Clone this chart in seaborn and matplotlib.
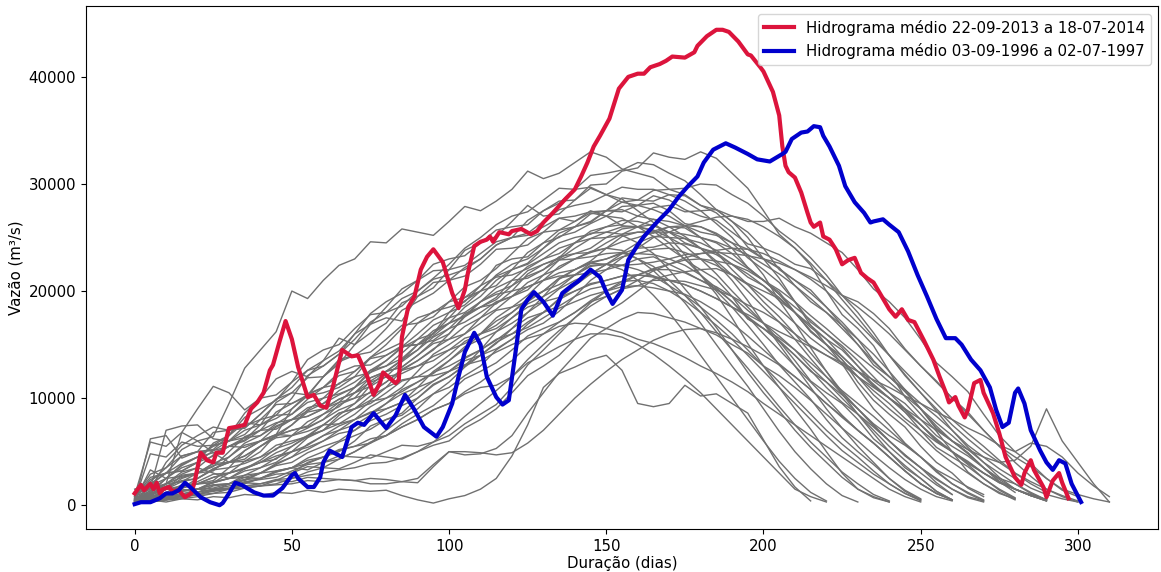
import pandas as pd
import seaborn as sns
import matplotlib.pyplot as plt

# hidrogramas anuais (mil m3/s), um valor a cada 5 dias a partir do dia 0
PASSO = 5
hidrogramas = [
    [0.8, 2.9, 3.5, 5.2, 6.0, 6.4, 9.5, 12.8, 14.5, 16.2, 20.0, 19.3, 21.0, 22.4, 23.0, 24.6, 24.5, 25.8, 25.5, 25.2, 26.5, 27.9, 27.5, 28.4, 29.5, 31.2, 30.5, 31.0, 32.0, 33.0, 32.5, 31.4, 31.0, 30.6, 29.5, 29.0, 28.0, 27.3, 26.0, 24.1, 23.0, 22.2, 20.5, 19.0, 18.0, 16.8, 15.0, 13.1, 12.0, 10.8, 9.0, 7.1, 6.0, 4.9, 3.5, 2.2, 1.5, 0.9, 0.4],
    [0.5, 0.9, 2.0, 6.8, 9.0, 11.1, 10.5, 8.9, 10.0, 11.8, 12.5, 12.0, 13.5, 15.6, 15.0, 16.1, 17.0, 18.9, 19.5, 20.3, 22.0, 23.8, 24.5, 25.1, 26.5, 28.0, 27.0, 27.2, 28.5, 29.9, 30.0, 31.2, 31.5, 32.9, 32.5, 32.3, 33.0, 32.4, 31.0, 29.6, 27.5, 25.3, 24.0, 22.4, 20.0, 17.8, 16.5, 14.9, 12.5, 10.1, 8.5, 6.9, 5.0, 3.1, 2.0, 1.2, 0.5],
    [0.3, 6.2, 6.5, 4.4, 5.0, 6.8, 7.0, 7.2, 8.5, 9.9, 10.5, 11.9, 12.0, 13.2, 15.0, 16.9, 17.5, 17.2, 19.5, 20.8, 21.0, 21.4, 22.5, 23.9, 24.0, 24.3, 25.5, 26.8, 26.5, 27.5, 27.0, 26.1, 26.0, 25.6, 24.5, 22.9, 22.0, 21.1, 19.5, 17.4, 16.5, 15.3, 13.5, 11.6, 10.5, 9.5, 8.0, 6.2, 5.0, 3.5, 2.5, 1.3, 0.5],
    [1.0, 1.6, 7.0, 7.4, 7.5, 6.2, 6.0, 7.4, 8.0, 8.4, 10.0, 12.1, 13.0, 14.1, 16.0, 16.9, 18.5, 20.2, 21.0, 22.5, 23.0, 23.3, 24.5, 25.7, 26.0, 26.2, 27.5, 28.4, 28.5, 29.6, 29.0, 28.3, 28.0, 28.2, 27.5, 26.3, 26.0, 25.3, 24.0, 22.2, 21.0, 19.9, 18.0, 16.2, 15.0, 13.6, 11.5, 9.8, 8.5, 7.3, 5.5, 4.0, 3.0, 1.6, 0.8],
    [0.2, 0.9, 1.0, 1.7, 2.0, 2.3, 3.5, 5.1, 6.0, 6.6, 9.0, 10.2, 10.5, 11.0, 12.0, 13.8, 14.5, 15.2, 17.0, 18.1, 18.5, 19.0, 20.5, 22.4, 23.0, 23.2, 24.5, 25.7, 26.0, 26.4, 27.5, 28.7, 28.5, 28.4, 29.0, 28.9, 28.0, 27.6, 26.5, 25.5, 24.0, 22.0, 21.0, 20.1, 18.5, 16.8, 15.5, 13.5, 12.0, 10.7, 9.0, 7.2, 6.0, 4.9, 3.5, 2.2, 1.2],
    [0.4, 0.6, 1.5, 2.8, 3.0, 3.6, 5.0, 6.4, 7.0, 7.1, 8.0, 9.1, 9.5, 10.3, 11.0, 12.6, 13.0, 14.2, 15.5, 16.0, 18.0, 19.4, 20.0, 20.5, 22.0, 23.6, 24.5, 25.0, 26.0, 27.2, 27.5, 27.4, 28.0, 28.9, 28.5, 27.6, 27.0, 26.6, 25.5, 24.4, 24.0, 23.4, 22.5, 22.1, 21.0, 19.6, 19.0, 17.9, 16.5, 14.6, 13.0, 11.6, 10.0, 8.7, 7.0, 5.5, 4.5, 3.6, 2.5, 1.4, 0.8],
    [0.6, 1.1, 2.5, 3.8, 4.5, 4.9, 4.0, 4.3, 5.5, 6.3, 6.5, 7.2, 8.0, 9.4, 10.0, 11.6, 12.5, 12.9, 14.0, 15.3, 16.0, 17.7, 18.5, 18.8, 20.0, 21.6, 22.5, 23.1, 24.5, 25.6, 26.0, 26.2, 27.0, 27.8, 28.0, 27.4, 27.5, 27.6, 27.0, 26.5, 26.5, 26.8, 26.0, 25.4, 24.5, 23.6, 22.0, 20.2, 19.0, 17.5, 15.5, 13.3, 12.0, 10.6, 8.5, 6.5, 5.0, 3.9, 2.5, 1.5, 1.0, 0.6, 0.3],
    [0.3, 0.4, 0.8, 1.3, 1.5, 2.2, 2.5, 3.4, 4.0, 4.3, 5.5, 6.5, 7.0, 7.6, 8.5, 9.7, 10.0, 11.0, 12.5, 14.1, 15.0, 16.0, 17.5, 18.9, 19.5, 20.1, 21.5, 22.9, 23.5, 24.0, 25.0, 25.8, 26.0, 26.7, 26.5, 26.1, 26.0, 25.4, 24.5, 23.1, 22.0, 20.8, 19.0, 17.1, 16.0, 14.7, 13.0, 11.2, 10.0, 8.7, 7.0, 5.4, 4.5, 3.6, 2.5, 1.5, 0.7],
    [0.2, 0.3, 0.5, 0.9, 1.0, 1.1, 1.5, 2.1, 2.0, 2.3, 3.0, 4.0, 4.5, 5.0, 6.0, 7.4, 8.0, 8.6, 10.0, 11.3, 12.0, 13.0, 14.5, 16.2, 17.0, 18.0, 19.5, 21.1, 22.0, 22.8, 24.0, 25.1, 25.5, 25.4, 26.0, 25.9, 25.0, 24.5, 23.5, 22.2, 21.0, 19.7, 18.0, 16.2, 15.0, 13.9, 12.5, 11.1, 10.0, 8.9, 7.5, 6.0, 5.0, 4.1, 3.0, 2.1, 1.5, 1.0, 0.5],
    [0.5, 4.8, 4.5, 5.9, 5.5, 5.6, 6.5, 8.2, 9.0, 9.8, 11.5, 13.6, 14.5, 15.0, 16.5, 17.8, 18.0, 18.6, 20.0, 21.1, 21.5, 22.0, 23.0, 24.3, 25.0, 26.6, 27.5, 28.2, 29.5, 30.8, 31.0, 31.3, 32.0, 31.8, 31.0, 30.3, 29.0, 27.6, 26.5, 25.0, 23.0, 21.2, 19.0, 16.8, 15.0, 13.2, 11.0, 9.0, 7.5, 5.8, 4.5, 3.1, 2.0, 1.2, 0.5],
    [1.2, 1.9, 3.0, 3.2, 4.0, 5.8, 6.5, 8.6, 10.0, 10.3, 11.5, 12.6, 13.0, 14.1, 15.5, 17.1, 18.0, 19.3, 20.0, 21.2, 22.5, 24.0, 25.0, 26.2, 27.0, 27.4, 28.5, 29.6, 29.5, 29.7, 29.0, 28.6, 27.5, 26.4, 25.0, 23.4, 21.5, 19.7, 17.5, 15.1, 13.0, 11.0, 9.0, 7.1, 5.0, 3.0, 1.5, 0.7, 0.3],
    [0.7, 1.0, 2.0, 3.1, 3.5, 4.7, 5.5, 6.1, 7.5, 8.4, 8.5, 9.9, 11.0, 11.3, 12.5, 13.7, 14.0, 14.8, 16.0, 17.3, 18.0, 18.7, 20.0, 21.4, 22.0, 22.6, 24.0, 25.4, 26.0, 26.5, 27.5, 28.3, 28.5, 29.4, 29.5, 29.6, 30.0, 29.9, 29.0, 28.2, 27.0, 25.6, 24.5, 23.1, 21.5, 19.6, 18.0, 16.1, 14.0, 12.1, 10.5, 8.8, 7.0, 5.4, 4.0, 2.6, 1.5, 0.9, 0.4],
    [0.4, 1.1, 1.5, 1.6, 2.5, 3.3, 3.5, 3.9, 4.5, 5.6, 6.0, 6.4, 7.5, 8.6, 9.0, 9.8, 11.0, 12.6, 13.5, 14.5, 16.0, 17.6, 18.5, 19.4, 21.0, 22.3, 23.0, 23.5, 24.5, 25.4, 25.5, 25.3, 26.0, 26.2, 25.5, 24.5, 24.0, 23.6, 22.5, 21.3, 20.5, 19.4, 18.0, 16.3, 15.0, 13.6, 12.0, 10.3, 9.0, 7.8, 6.5, 5.1, 4.0, 3.0, 2.0, 1.1, 0.6],
    [0.3, 0.5, 1.0, 1.6, 2.0, 2.1, 3.0, 4.1, 4.5, 5.2, 6.5, 7.8, 8.5, 9.2, 10.5, 11.9, 12.5, 12.9, 14.0, 15.1, 15.5, 16.0, 17.0, 18.2, 18.5, 19.0, 20.0, 21.2, 21.5, 22.3, 22.5, 22.4, 23.0, 23.2, 22.5, 21.8, 21.0, 20.2, 19.0, 17.4, 16.5, 15.3, 14.0, 12.5, 11.5, 10.3, 9.0, 7.6, 6.5, 5.6, 4.5, 3.3, 2.5, 1.7, 1.0],
    [0.9, 5.9, 5.5, 6.8, 6.0, 4.9, 5.5, 6.0, 7.0, 8.7, 9.5, 10.2, 12.0, 13.6, 14.0, 14.3, 15.5, 16.8, 17.0, 17.6, 19.0, 20.4, 21.0, 22.1, 23.5, 24.9, 25.5, 25.7, 26.5, 27.3, 27.0, 26.8, 26.0, 25.1, 24.0, 23.0, 21.5, 20.0, 18.5, 16.8, 15.0, 13.1, 11.5, 9.9, 8.0, 6.3, 5.0, 3.8, 2.5, 1.4, 0.6],
    [0.2, 0.3, 0.6, 0.8, 1.2, 1.8, 2.0, 2.3, 3.0, 3.7, 4.0, 4.9, 5.5, 6.0, 7.0, 8.2, 9.0, 9.6, 11.0, 12.5, 13.5, 14.6, 16.0, 17.5, 18.5, 19.6, 21.0, 22.3, 23.0, 23.6, 24.5, 25.3, 25.5, 25.6, 26.0, 26.1, 25.5, 25.2, 24.5, 23.9, 23.0, 22.1, 21.0, 19.8, 18.5, 17.1, 15.5, 14.1, 12.5, 10.8, 9.5, 8.3, 7.0, 5.6, 4.5, 3.4, 2.5, 1.6, 1.0, 0.6, 0.3],
    [0.5, 3.3, 2.5, 2.7, 3.0, 3.9, 4.0, 5.1, 6.0, 7.3, 8.0, 8.3, 9.0, 9.9, 10.5, 11.1, 12.0, 13.4, 14.5, 16.1, 17.0, 17.7, 19.0, 19.9, 20.5, 21.4, 22.0, 23.2, 23.5, 23.6, 24.0, 23.8, 23.0, 21.9, 20.5, 18.9, 17.0, 15.0, 13.0, 11.1, 9.0, 6.9, 5.0, 3.4, 2.0, 0.9, 0.3],
    [0.6, 1.0, 1.8, 2.3, 2.5, 3.4, 4.0, 4.1, 5.0, 6.6, 7.5, 8.9, 10.0, 11.4, 12.0, 12.4, 13.5, 14.8, 15.0, 16.0, 17.5, 19.1, 20.0, 21.5, 22.5, 23.0, 24.0, 25.1, 25.5, 26.3, 27.0, 27.9, 28.0, 27.6, 27.0, 26.1, 25.0, 23.6, 22.0, 20.6, 19.0, 17.6, 16.0, 14.2, 12.5, 10.6, 9.0, 7.5, 6.0, 4.7, 3.5, 2.1, 1.0],
    [0.3, 0.4, 0.7, 0.8, 1.0, 1.5, 1.8, 2.0, 2.5, 3.2, 3.5, 4.4, 5.0, 5.9, 6.5, 7.1, 8.0, 8.4, 9.5, 10.4, 11.0, 12.1, 13.0, 14.5, 15.5, 16.9, 18.0, 19.3, 20.5, 21.6, 22.5, 23.5, 24.0, 24.1, 24.5, 24.4, 24.0, 23.4, 22.5, 21.6, 20.5, 19.1, 18.0, 16.8, 15.5, 13.9, 12.5, 11.3, 10.0, 8.7, 7.5, 6.1, 5.0, 4.0, 3.0, 2.2, 1.5, 0.9, 0.5],
    [1.0, 2.2, 3.5, 4.6, 5.0, 5.1, 6.0, 7.0, 7.5, 9.6, 10.5, 10.3, 11.0, 12.1, 12.5, 13.8, 15.0, 16.5, 17.5, 18.0, 19.0, 19.4, 20.5, 21.3, 21.5, 22.1, 23.0, 24.0, 24.5, 24.9, 25.5, 26.0, 26.0, 25.7, 25.0, 24.2, 23.0, 21.6, 20.0, 18.5, 17.0, 15.4, 14.0, 12.6, 11.0, 9.6, 8.5, 7.3, 6.0, 4.6, 3.5, 2.5, 1.5, 0.8, 0.4],
    [0.4, 0.7, 1.2, 1.9, 2.0, 2.1, 2.5, 3.2, 3.5, 4.0, 5.0, 6.3, 7.0, 8.4, 9.5, 11.2, 12.5, 13.5, 15.0, 15.8, 17.0, 18.5, 19.5, 21.0, 22.0, 22.5, 23.5, 24.5, 25.0, 25.3, 26.0, 26.6, 26.5, 26.1, 25.5, 24.9, 24.0, 22.8, 21.5, 20.0, 18.5, 17.1, 15.5, 13.7, 12.0, 10.4, 9.0, 7.4, 6.0, 4.7, 3.5, 2.4, 1.5, 0.7, 0.3],
    [0.2, 0.3, 0.5, 0.6, 0.8, 1.1, 1.2, 1.6, 1.8, 2.0, 2.5, 3.1, 3.5, 4.3, 5.0, 5.8, 7.0, 8.1, 9.0, 10.4, 11.5, 12.9, 14.0, 15.1, 16.5, 18.0, 19.0, 20.2, 21.0, 21.6, 22.5, 23.2, 23.5, 23.9, 24.0, 23.6, 23.0, 22.4, 21.5, 20.6, 19.5, 18.3, 17.0, 15.6, 14.5, 13.3, 12.0, 10.7, 9.5, 8.1, 7.0, 5.9, 5.0, 3.9, 3.0, 2.1, 1.5, 0.9, 0.4],
    [0.2, 0.5, 0.3, 0.6, 0.5, 0.8, 0.7, 1.0, 0.9, 1.2, 1.1, 1.4, 1.2, 1.5, 1.4, 1.3, 1.4, 0.9, 0.5, 0.2, 0.6, 0.9, 1.5, 2.5, 4.6, 7.5, 11.0, 12.3, 12.9, 13.6, 14.0, 12.6, 9.5, 9.2, 9.5, 11.2, 10.2, 10.4, 9.5, 8.6, 6.1, 3.6, 1.7, 0.4],
    [0.3, 0.6, 0.5, 0.9, 1.0, 1.4, 1.5, 1.6, 1.8, 2.3, 2.2, 2.6, 2.5, 2.4, 2.3, 2.0, 2.0, 2.2, 2.5, 3.8, 5.0, 4.7, 4.8, 5.3, 6.5, 8.6, 10.5, 12.4, 14.0, 15.6, 16.5, 17.4, 18.0, 17.9, 17.5, 17.1, 16.5, 15.9, 15.0, 14.2, 13.0, 12.1, 11.0, 9.8, 8.5, 7.2, 6.0, 4.7, 3.5, 2.4, 1.5, 0.8, 0.4],
    [0.5, 0.8, 1.0, 1.4, 1.5, 1.3, 2.0, 2.8, 3.0, 3.2, 3.5, 3.3, 4.0, 4.6, 4.5, 4.4, 5.0, 5.6, 5.5, 5.9, 6.5, 7.6, 8.5, 9.4, 11.0, 13.1, 14.5, 16.0, 17.5, 18.9, 20.0, 20.7, 21.5, 22.0, 22.0, 21.7, 21.0, 20.4, 19.5, 18.2, 17.0, 15.8, 14.5, 12.9, 11.5, 10.0, 8.5, 7.0, 5.5, 4.2, 3.0, 1.9, 1.0],
    [0.3, 1.4, 2.0, 2.9, 3.5, 3.0, 2.5, 2.6, 3.0, 3.8, 4.5, 5.7, 6.5, 7.0, 8.0, 9.2, 10.0, 10.6, 11.5, 12.4, 13.0, 13.8, 14.5, 15.5, 16.0, 16.6, 17.5, 18.4, 19.0, 19.6, 20.0, 20.4, 20.5, 20.3, 20.0, 19.7, 19.0, 18.1, 17.0, 15.8, 14.5, 13.2, 12.0, 10.8, 9.5, 8.2, 7.0, 5.8, 4.5, 3.2, 2.0, 1.1, 0.5],
    [0.8, 1.5, 4.0, 5.6, 6.5, 7.3, 7.0, 7.2, 8.5, 9.9, 11.0, 12.6, 13.5, 14.4, 16.0, 17.9, 19.0, 19.8, 21.0, 21.9, 22.0, 22.4, 23.5, 24.6, 25.0, 25.4, 26.5, 27.6, 28.0, 28.3, 29.0, 29.7, 29.5, 29.5, 29.0, 28.4, 27.5, 26.3, 25.0, 23.3, 21.5, 19.1, 17.0, 14.7, 12.5, 10.4, 8.5, 6.7, 5.0, 3.7, 2.5, 1.3, 0.5],
    [0.4, 0.9, 1.5, 2.2, 2.5, 3.4, 4.0, 4.6, 5.5, 6.5, 7.0, 7.3, 8.0, 8.9, 9.5, 10.6, 11.5, 12.7, 13.5, 14.6, 15.5, 16.7, 17.5, 18.3, 19.5, 20.8, 21.5, 22.1, 23.0, 23.7, 24.0, 24.6, 25.0, 25.5, 25.5, 25.3, 25.0, 24.6, 24.0, 23.4, 22.5, 21.6, 20.5, 19.3, 18.0, 16.5, 15.0, 13.4, 12.0, 10.6, 9.0, 7.4, 6.0, 4.8, 3.5, 2.4, 1.5, 0.9, 0.5],
    [0.6, 1.2, 2.0, 2.6, 3.0, 3.9, 4.5, 5.8, 6.5, 7.6, 8.5, 9.6, 10.0, 10.4, 11.0, 11.9, 12.5, 13.6, 14.5, 15.7, 16.5, 17.1, 18.0, 19.0, 19.5, 20.4, 21.0, 21.7, 22.0, 22.7, 23.0, 23.5, 23.5, 23.4, 23.0, 22.4, 21.5, 20.3, 19.0, 17.6, 16.0, 14.5, 13.0, 11.5, 10.0, 8.4, 7.0, 5.8, 4.5, 3.2, 2.0, 1.1, 0.5],
    [0.2, 0.6, 0.8, 1.0, 1.5, 1.9, 2.0, 2.4, 3.0, 3.9, 4.5, 5.2, 6.0, 7.0, 7.5, 8.4, 9.5, 10.8, 11.5, 12.3, 13.5, 14.8, 15.5, 16.2, 17.5, 18.8, 19.5, 20.3, 21.5, 22.6, 23.0, 23.6, 24.5, 25.1, 25.0, 24.9, 24.5, 23.8, 23.0, 22.1, 21.0, 19.7, 18.5, 17.3, 16.0, 14.9, 13.5, 12.0, 10.5, 9.0, 7.5, 6.2, 5.0, 3.8, 2.5, 1.4, 0.6],
    [1.5, 2.0, 3.0, 3.9, 4.5, 5.5, 6.0, 6.6, 8.0, 9.4, 9.5, 10.3, 12.0, 13.4, 14.0, 15.0, 16.5, 18.2, 19.0, 19.8, 21.0, 22.2, 23.0, 24.3, 25.0, 25.2, 26.0, 26.8, 27.0, 27.4, 27.5, 27.6, 27.0, 26.7, 26.0, 25.1, 24.0, 22.6, 21.0, 19.1, 17.0, 15.0, 13.0, 11.0, 9.0, 7.2, 5.5, 4.0, 2.5, 1.3, 0.5],
    [0.3, 0.5, 1.0, 1.4, 1.5, 2.1, 2.5, 2.8, 3.5, 4.4, 5.0, 5.6, 6.5, 7.4, 8.0, 8.6, 9.5, 10.4, 11.0, 11.6, 12.5, 13.5, 14.0, 14.6, 15.5, 16.4, 17.0, 18.1, 19.5, 21.0, 22.0, 23.1, 24.0, 25.0, 25.5, 26.1, 26.5, 26.9, 27.0, 26.7, 26.0, 25.1, 24.0, 22.6, 21.0, 19.2, 17.5, 15.7, 14.0, 12.2, 10.5, 9.0, 7.5, 6.2, 5.0, 4.0, 3.0, 2.2, 1.5, 0.9, 0.4],
    [0.4, 1.8, 2.5, 3.5, 4.0, 4.6, 5.5, 6.3, 6.5, 7.4, 8.0, 8.3, 9.0, 9.9, 10.5, 11.5, 12.0, 12.3, 13.0, 13.9, 14.5, 15.1, 16.0, 17.2, 18.0, 19.1, 20.0, 21.2, 22.0, 22.6, 22.5, 22.0, 21.0, 19.6, 18.0, 16.1, 14.0, 12.0, 10.0, 8.0, 6.0, 4.1, 2.5, 1.2, 0.4],
    [0.2, 0.4, 0.5, 0.7, 1.0, 1.3, 1.5, 2.1, 2.5, 3.1, 3.5, 3.9, 4.5, 5.2, 5.5, 5.8, 6.5, 7.3, 8.0, 8.9, 9.5, 10.6, 11.5, 12.6, 13.5, 14.9, 16.0, 17.1, 18.0, 19.1, 20.0, 20.9, 21.5, 22.1, 22.5, 22.9, 23.0, 22.8, 22.5, 21.9, 21.0, 20.1, 19.0, 17.7, 16.5, 15.2, 14.0, 12.8, 11.5, 10.2, 9.0, 7.7, 6.5, 5.2, 4.0, 3.0, 2.0, 1.1, 0.5],
    [0.5, 1.1, 1.5, 1.8, 2.0, 2.6, 3.0, 3.4, 4.0, 4.9, 5.5, 6.4, 7.0, 8.1, 9.0, 10.2, 11.0, 11.7, 12.0, 12.1, 12.5, 13.1, 13.5, 14.3, 15.0, 15.6, 16.0, 16.7, 17.0, 16.9, 16.5, 16.1, 15.5, 15.1, 14.5, 13.8, 13.0, 12.3, 11.5, 10.6, 9.5, 8.5, 7.5, 6.5, 5.5, 4.5, 3.5, 2.5, 1.5, 0.8, 0.3],
    [0.3, 0.5, 0.9, 1.3, 1.5, 1.9, 2.0, 2.6, 2.5, 2.9, 3.0, 3.6, 3.5, 3.4, 4.0, 4.7, 4.5, 4.3, 5.0, 5.6, 6.0, 7.2, 8.0, 9.0, 10.5, 12.1, 13.0, 14.0, 15.5, 17.2, 18.0, 18.9, 20.0, 21.1, 21.5, 21.8, 22.0, 22.1, 21.5, 20.7, 20.0, 19.3, 18.0, 16.6, 15.5, 14.5, 13.0, 11.6, 10.5, 9.5, 8.0, 6.5, 5.5, 4.6, 3.5, 2.5, 2.0, 1.2, 0.5],
    [0.6, 2.4, 3.0, 4.6, 5.0, 5.2, 6.5, 7.7, 7.5, 8.1, 9.0, 10.4, 11.0, 12.4, 13.0, 13.1, 14.0, 14.9, 15.0, 15.4, 16.5, 17.9, 18.5, 19.2, 20.5, 21.9, 22.5, 23.0, 24.0, 24.9, 25.0, 25.2, 24.5, 23.5, 22.0, 20.2, 18.5, 16.6, 14.5, 12.4, 10.5, 8.8, 7.0, 5.4, 4.0, 2.6, 1.5, 0.8, 0.3],
    [0.4, 0.7, 1.5, 2.5, 3.0, 3.2, 4.5, 5.6, 6.0, 6.4, 7.5, 8.7, 9.0, 9.6, 11.0, 12.4, 13.0, 13.7, 15.0, 16.3, 17.0, 17.6, 19.0, 20.3, 21.0, 21.2, 22.0, 22.9, 23.0, 23.2, 23.5, 23.6, 23.0, 22.3, 21.0, 19.6, 18.0, 16.2, 14.5, 12.8, 11.0, 9.2, 7.5, 5.9, 4.5, 3.1, 2.0, 1.0, 0.4],
    [0.2, 0.4, 0.6, 0.9, 1.0, 1.4, 1.6, 2.2, 2.4, 2.6, 3.2, 3.8, 4.0, 4.3, 5.0, 5.9, 6.5, 7.6, 8.5, 9.3, 10.5, 11.8, 12.5, 13.3, 14.5, 15.8, 16.5, 17.1, 18.0, 19.0, 19.5, 20.2, 20.5, 21.0, 21.0, 20.9, 20.5, 20.1, 19.5, 18.7, 18.0, 17.1, 16.0, 14.9, 14.0, 13.1, 12.0, 11.0, 10.0, 9.0, 8.0, 7.0, 6.0, 5.2, 4.5, 4.0, 4.2, 5.5, 9.0, 6.0, 4.0, 2.0, 0.3],
    [0.5, 0.7, 1.0, 1.6, 2.0, 2.6, 3.0, 3.5, 4.0, 4.6, 5.0, 5.4, 6.0, 6.7, 7.0, 7.9, 8.5, 9.3, 10.0, 11.2, 12.0, 13.1, 14.0, 15.2, 16.0, 17.1, 18.0, 19.2, 20.0, 20.7, 21.0, 21.4, 21.5, 21.4, 21.0, 20.6, 20.0, 19.3, 18.5, 17.8, 17.0, 16.2, 15.5, 14.8, 14.0, 13.3, 12.5, 11.7, 11.0, 10.2, 9.5, 8.7, 8.0, 7.2, 6.5, 5.6, 5.0, 5.8, 5.5, 4.5, 3.0, 1.8, 0.8],
    [0.8, 2.6, 3.0, 3.2, 4.0, 5.1, 5.5, 5.4, 6.0, 6.6, 6.5, 6.9, 7.5, 7.6, 8.0, 8.7, 9.0, 9.6, 10.5, 11.6, 12.5, 13.7, 14.5, 15.4, 16.5, 17.5, 18.0, 18.6, 19.5, 20.2, 20.5, 20.9, 21.0, 20.7, 20.0, 19.1, 18.0, 16.8, 15.5, 14.0, 12.5, 11.0, 9.5, 8.0, 6.5, 5.1, 4.0, 2.9, 2.0, 1.1, 0.4],
    [0.3, 0.6, 0.8, 0.9, 1.2, 1.5, 1.5, 1.8, 2.0, 2.4, 2.5, 2.8, 3.0, 3.3, 3.5, 3.9, 4.0, 4.4, 5.0, 5.9, 7.0, 8.3, 9.5, 10.7, 12.0, 13.6, 15.0, 16.3, 17.5, 18.6, 19.5, 20.2, 21.0, 21.9, 22.5, 23.1, 23.5, 23.8, 24.0, 23.9, 23.5, 22.8, 22.0, 21.1, 20.0, 18.5, 17.0, 15.5, 14.0, 12.5, 11.0, 9.5, 8.0, 6.7, 5.5, 4.2, 3.0, 2.0, 1.2],
    [0.4, 1.0, 1.5, 1.6, 2.2, 2.9, 3.0, 3.4, 4.2, 5.3, 5.8, 6.5, 7.5, 8.6, 9.0, 9.5, 10.5, 11.6, 12.0, 12.9, 14.0, 15.3, 16.0, 16.8, 18.0, 19.3, 20.0, 20.6, 21.5, 22.4, 22.5, 22.4, 22.0, 21.4, 20.5, 19.6, 18.5, 17.3, 16.0, 14.5, 13.0, 11.5, 10.0, 8.5, 7.0, 5.7, 4.5, 3.2, 2.0, 1.1, 0.5],
    [0.7, 1.3, 2.5, 3.7, 4.5, 5.6, 6.0, 6.3, 7.0, 7.7, 8.0, 8.8, 9.5, 10.7, 11.5, 12.6, 13.5, 14.7, 15.5, 16.8, 17.5, 18.0, 19.0, 19.7, 20.0, 20.4, 21.0, 21.4, 21.5, 21.7, 22.0, 22.4, 22.5, 22.7, 23.0, 23.4, 23.5, 23.6, 23.5, 23.3, 23.0, 22.6, 22.0, 21.3, 20.5, 19.6, 18.5, 17.3, 16.0, 14.5, 13.0, 11.5, 10.0, 8.5, 7.0, 5.5, 4.0, 2.7, 1.5, 0.8, 0.3],
    [0.3, 0.7, 1.0, 1.4, 1.5, 1.6, 2.0, 2.4, 2.5, 3.1, 3.5, 4.2, 4.5, 5.1, 5.5, 6.2, 6.5, 7.3, 8.0, 8.9, 9.5, 10.4, 11.0, 11.2, 12.0, 13.3, 14.0, 14.8, 15.5, 16.0, 16.0, 15.7, 15.0, 14.1, 13.0, 11.8, 10.5, 9.0, 7.5, 6.0, 4.5, 3.0, 1.5, 0.8, 0.3],
    [0.5, 1.6, 2.0, 2.2, 3.0, 3.7, 4.0, 4.6, 5.5, 6.5, 7.0, 7.4, 8.5, 9.6, 10.0, 10.5, 11.5, 12.6, 13.0, 13.5, 14.5, 15.6, 16.0, 16.5, 17.5, 18.5, 19.0, 19.4, 20.0, 20.6, 21.0, 21.4, 21.5, 21.3, 21.0, 20.6, 20.0, 19.3, 18.5, 17.6, 16.5, 15.6, 14.5, 13.3, 12.0, 10.7, 9.5, 8.3, 7.0, 5.7, 4.5, 3.2, 2.0, 1.1, 0.4],
    [0.4, 0.7, 0.8, 1.1, 1.2, 1.5, 1.6, 1.8, 1.8, 1.9, 2.0, 2.3, 2.2, 2.4, 2.3, 2.5, 2.4, 2.2, 2.1, 3.6, 5.0, 5.0, 4.9, 4.7, 4.9, 5.8, 7.0, 8.5, 10.0, 11.3, 12.5, 13.6, 14.5, 15.4, 16.0, 16.4, 16.5, 16.1, 15.5, 14.8, 14.0, 13.1, 12.0, 10.8, 9.5, 8.3, 7.0, 5.8, 4.5, 3.2, 2.0, 1.1, 0.5],
]

# hidrograma 22-09-2013 a 18-07-2014
dias_2013 = [0, 1, 2, 3, 4, 5, 6, 7, 8, 9, 11, 12, 14, 16, 18, 19, 21, 23, 25, 26, 28, 30, 32, 35, 37, 39,
             41, 43, 44, 46, 48, 50, 52, 55, 57, 59, 61, 63, 66, 69, 71, 74, 76, 78, 79, 81, 83, 84, 85,
             87, 89, 91, 93, 95, 98, 101, 103, 105, 106, 108, 110, 112, 113, 114, 116, 119, 120, 123, 126,
             128, 130, 133, 137, 140, 142, 144, 146, 148, 151, 154, 157, 160, 162, 164, 167, 169, 171, 175,
             178, 179, 182, 185, 187, 189, 192, 195, 196, 199, 200, 203, 205, 206, 207, 208, 210, 212, 214,
             215, 216, 218, 219, 221, 223, 225, 227, 229, 231, 233, 235, 237, 240, 242, 244, 246, 248, 251,
             254, 256, 258, 259, 261, 262, 264, 265, 267, 269, 270, 273, 275, 277, 280, 282, 283, 285, 286,
             289, 290, 292, 294, 295, 297]
vazao_2013 = [1100, 1500, 1900, 1400, 1700, 2000, 1500, 2100, 1100, 1500, 1700, 1300, 1400, 750, 1100, 2100,
              4900, 4200, 4000, 4900, 4900, 7200, 7300, 7500, 9000, 9600, 10500, 12600, 13100, 15200, 17200,
              15500, 12900, 10100, 10300, 9300, 9100, 11000, 14500, 13900, 14000, 12000, 10300, 11400, 12400,
              11900, 11400, 11700, 15700, 18500, 19500, 22000, 23200, 23900, 22700, 19800, 18400, 20100, 21700,
              24200, 24600, 24800, 25100, 24600, 25500, 25300, 25600, 25800, 25300, 25600, 26400, 27300, 28600,
              29500, 30700, 32000, 33500, 34500, 36100, 38900, 40000, 40300, 40300, 40900, 41200, 41500, 41900,
              41800, 42300, 42900, 43800, 44400, 44400, 44200, 43300, 42100, 42000, 40900, 40500, 38600, 36400,
              33500, 31700, 31100, 30600, 29200, 27300, 26400, 26000, 26400, 25100, 24800, 23900, 22500, 22900,
              23100, 21700, 21200, 20800, 19800, 18300, 17600, 18300, 17300, 17100, 15400, 13600, 12000, 10500,
              9600, 10100, 9300, 8200, 8900, 11400, 11700, 10500, 8600, 6700, 4500, 2600, 1900, 3000, 4200,
              3300, 1700, 750, 2300, 3000, 2100, 650]

# hidrograma 03-09-1996 a 02-07-1997
dias_1996 = [0, 2, 5, 8, 10, 12, 14, 16, 18, 21, 24, 27, 28, 30, 32, 34, 38, 41, 44, 47, 50, 51, 52, 55, 57,
             59, 60, 62, 66, 69, 71, 73, 76, 80, 83, 86, 89, 92, 96, 98, 101, 103, 105, 108, 110, 112, 115,
             117, 119, 121, 123, 125, 127, 130, 133, 136, 139, 141, 145, 148, 150, 152, 155, 157, 160, 162,
             166, 170, 173, 176, 179, 181, 184, 188, 191, 195, 198, 202, 206, 207, 209, 212, 214, 216, 218,
             219, 221, 224, 226, 229, 232, 234, 235, 238, 240, 243, 246, 249, 252, 255, 258, 261, 263, 266,
             269, 272, 274, 276, 278, 280, 281, 283, 285, 288, 290, 292, 294, 296, 298, 301]
vazao_1996 = [100, 280, 280, 650, 1100, 1100, 1400, 2100, 1600, 750, 280, 0, 200, 1100, 2100, 1900, 1200, 900,
              900, 1600, 2800, 3000, 2500, 1700, 1700, 2600, 4000, 5100, 4500, 7300, 7700, 7500, 8600, 7200,
              8400, 10300, 8900, 7300, 6400, 7300, 9500, 12000, 14300, 16100, 15000, 12000, 10100, 9400, 9800,
              14000, 18300, 19200, 19900, 19000, 17700, 19800, 20500, 20900, 22000, 21300, 19900, 18800, 20100,
              22900, 24300, 25100, 26400, 27600, 28800, 29800, 30700, 32000, 33200, 33800, 33400, 32800, 32300,
              32100, 32800, 33000, 34200, 34800, 34900, 35400, 35300, 34500, 33500, 31700, 29800, 28300, 27300,
              26400, 26500, 26700, 26200, 25500, 23700, 21500, 19500, 17400, 15600, 15600, 15000, 13600, 12600,
              11000, 8900, 7300, 7700, 10500, 10900, 9500, 7000, 5100, 4000, 3300, 4200, 3900, 2000, 300]

# tabela longa com os hidrogramas anuais
linhas = []
for i, serie in enumerate(hidrogramas):
    for j, v in enumerate(serie):
        linhas.append({'serie': i, 'dia': j * PASSO, 'vazao': v * 1000})
df = pd.DataFrame(linhas)

fig, ax = plt.subplots(figsize=(11.61, 5.72), dpi=100)
fig.subplots_adjust(left=0.074, right=0.9975, bottom=0.0752, top=0.9895)

sns.lineplot(data=df, x='dia', y='vazao', units='serie', estimator=None,
             color='#707070', linewidth=1.0, ax=ax)
sns.lineplot(x=dias_2013, y=vazao_2013, color='crimson', linewidth=3,
             label='Hidrograma médio 22-09-2013 a 18-07-2014', ax=ax)
sns.lineplot(x=dias_1996, y=vazao_1996, color='mediumblue', linewidth=3,
             label='Hidrograma médio 03-09-1996 a 02-07-1997', ax=ax)

ax.set_xlabel('Duração (dias)', fontsize=10.8, labelpad=2)
ax.set_ylabel('Vazão (m³/s)', fontsize=10.8)
ax.tick_params(labelsize=10.8)
ax.legend(loc='upper right', fontsize=10.8)

plt.savefig('out.png', dpi=100)
